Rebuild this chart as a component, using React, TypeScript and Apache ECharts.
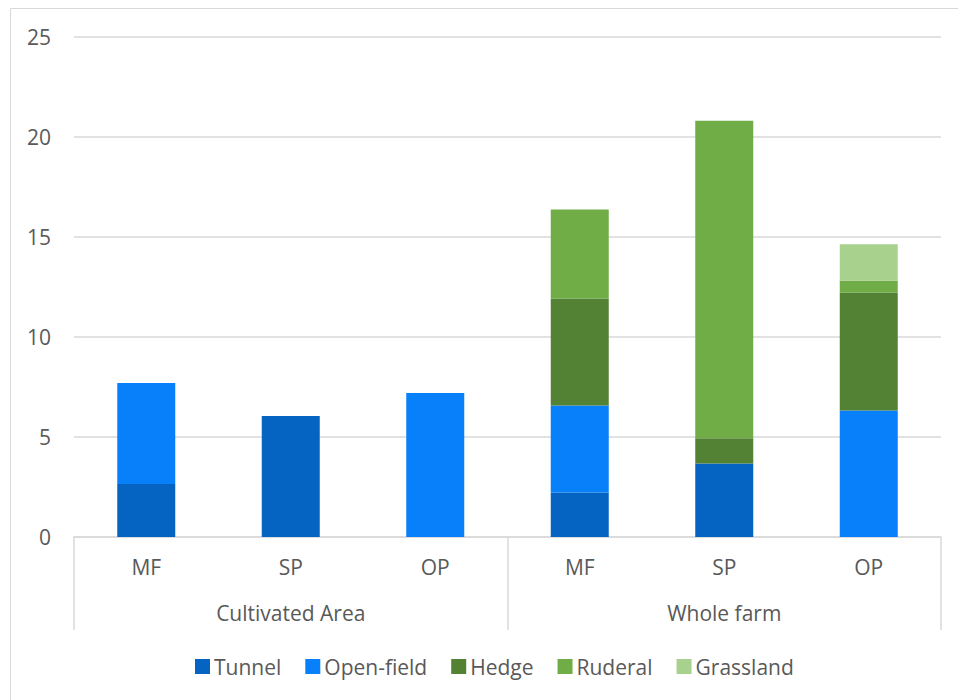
import React, { useEffect, useRef } from "react";
import * as echarts from "echarts";

const categories = ["MF", "SP", "OP", "MF", "SP", "OP"];
const groups = ["Cultivated Area", "Whole farm"];
const seriesNames = ["Tunnel", "Open-field", "Hedge", "Ruderal", "Grassland"];
const tunnel = [2.65, 6.05, null, 2.22, 3.67, null];
const openField = [5.05, null, 7.2, 4.35, null, 6.33];
const hedge = [null, null, null, 5.36, 1.27, 5.88];
const ruderal = [null, null, null, 4.45, 15.87, 0.6];
const grassland = [null, null, null, null, null, 1.83];
const colors = ["#0563C1", "#0780FA", "#548235", "#70AD47", "#A9D18E"];

const FONT = "Open Sans";
const FS = 21;
const TXT = "#595959";
const GRID = "#D9D9D9";

export default function App() {
  const ref = useRef<HTMLDivElement>(null);
  useEffect(() => {
    if (!ref.current) return;
    const chart = echarts.init(ref.current, null, { renderer: "svg" });
    const values = [tunnel, openField, hedge, ruderal, grassland];
    chart.setOption({
      animation: false,
      textStyle: { fontFamily: FONT, color: TXT },
      color: colors,
      graphic: [
        {
          type: "rect",
          shape: { x: 10.5, y: 8.5, width: 1000, height: 1000 },
          style: { fill: "none", stroke: GRID, lineWidth: 1 },
          silent: true,
        },
      ],
      grid: { left: 74, right: 17, top: 37, bottom: 163, containLabel: false },
      legend: {
        left: 190,
        top: 651,
        icon: "rect",
        itemWidth: 15,
        itemHeight: 15,
        itemGap: 24,
        textStyle: { fontFamily: FONT, fontSize: FS, color: TXT, padding: [0, 0, 0, -1] },
        data: seriesNames,
      },
      xAxis: [
        {
          type: "category",
          data: categories,
          position: "bottom",
          axisLine: { show: true, lineStyle: { color: GRID, width: 1.5 } },
          axisTick: { show: false },
          axisLabel: { fontFamily: FONT, fontSize: FS, color: TXT, margin: 19 },
        },
        {
          type: "category",
          data: groups,
          position: "bottom",
          offset: 0,
          axisLine: { show: false },
          axisTick: { show: true, length: 93, lineStyle: { color: GRID, width: 1.5 } },
          axisLabel: { fontFamily: FONT, fontSize: FS, color: TXT, margin: 65 },
        },
      ],
      yAxis: {
        type: "value",
        min: 0,
        max: 25,
        interval: 5,
        axisLine: { show: false },
        axisTick: { show: false },
        splitLine: { lineStyle: { color: GRID, width: 1.5 } },
        axisLabel: { fontFamily: FONT, fontSize: FS, color: TXT, margin: 23 },
      },
      series: seriesNames.map((name, i) => ({
        name,
        type: "bar",
        stack: "total",
        xAxisIndex: 0,
        barWidth: 58,
        data: values[i],
        itemStyle: { color: colors[i] },
      })),
    });
    return () => chart.dispose();
  }, []);
  return (
    <div
      ref={ref}
      style={{ position: "fixed", left: 0, top: 0, width: 958, height: 700, background: "#fff" }}
    />
  );
}
